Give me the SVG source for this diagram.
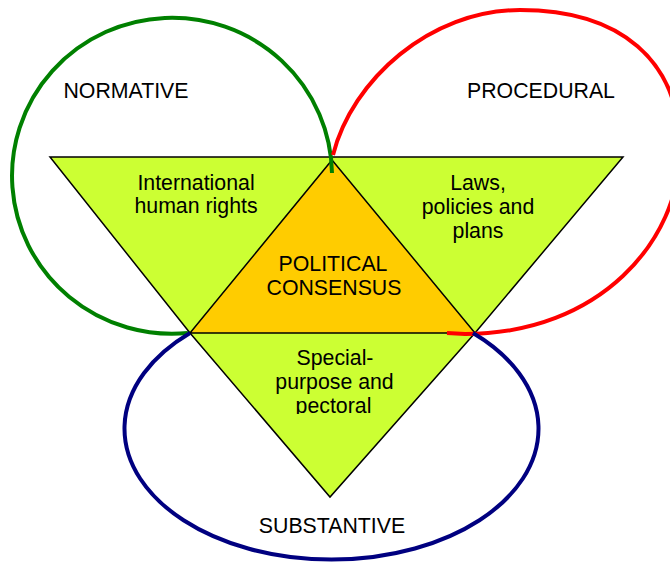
<svg xmlns="http://www.w3.org/2000/svg" width="670" height="563" viewBox="0 0 670 563">
  <style>
    .t { font-family: "Liberation Sans", Arial, sans-serif; font-size: 21.3px; fill: #000; text-anchor: middle; }
    .ring { fill: none; stroke-width: 4; stroke-linecap: butt; }
    .tri { stroke: #000; stroke-width: 1.5; stroke-linejoin: miter; }
  </style>
  <defs>
    <clipPath id="clipBottom">
      <rect x="0" y="0" width="670" height="414"/>
    </clipPath>
  </defs>
  <rect width="670" height="563" fill="#fff"/>

  <g id="outer-triangle">
    <polygon class="tri" fill="#ccff33" points="50,157 623,157 475,333 330,497 190,333"/>
  </g>
  <g id="political-consensus">
    <polygon class="tri" fill="#ffcc00" points="332,160 475,333 190,333"/>
    <text class="t" x="333" y="271">POLITICAL</text>
    <text class="t" x="334" y="295">CONSENSUS</text>
  </g>

  <g id="rings">
    <path id="ring-normative" class="ring" stroke="#008000" d="M332,173 A160,158 0 1 0 188,333"/>
    <path id="ring-procedural" class="ring" stroke="#ff0000" d="M333,155 C352,80 430,10 520,10 C620,10 680,60 680,150 C680,240 600,334 465,334 L447,333"/>
    <path id="ring-substantive" class="ring" stroke="#000080" d="M190,333 A207,131 0 1 0 473,333"/>
  </g>

  <g id="normative">
    <text class="t" x="126" y="98">NORMATIVE</text>
    <text class="t" x="196" y="190">International</text>
    <text class="t" x="196" y="213">human rights</text>
  </g>
  <g id="procedural">
    <text class="t" x="541" y="98">PROCEDURAL</text>
    <text class="t" x="478" y="190">Laws,</text>
    <text class="t" x="478" y="213.5">policies and</text>
    <text class="t" x="478" y="237.5">plans</text>
  </g>
  <g id="substantive">
    <text class="t" x="332" y="532.5">SUBSTANTIVE</text>
    <g clip-path="url(#clipBottom)">
      <text class="t" x="335" y="365">Special-</text>
      <text class="t" x="334.5" y="389">purpose and</text>
      <text class="t" x="333.5" y="413">pectoral</text>
    </g>
  </g>
</svg>
